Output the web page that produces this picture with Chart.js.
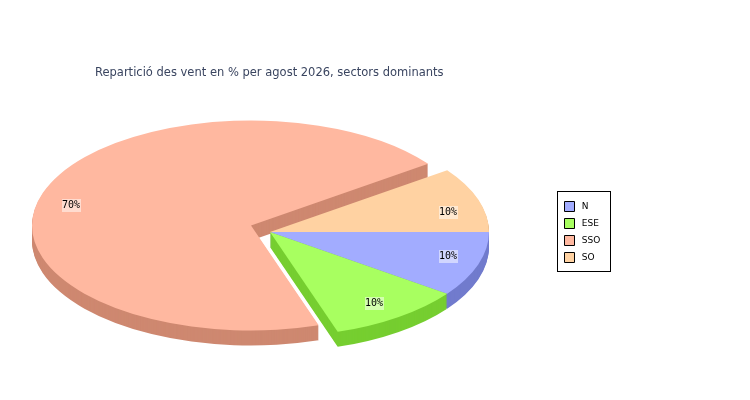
<!DOCTYPE html>
<html>
<head>
<meta charset="utf-8">
<script src="https://cdn.jsdelivr.net/npm/chart.js@4"></script>
<style>
  body { margin: 0; background: #fff; }
  canvas { display: block; }
</style>
</head>
<body>
<canvas id="windPie" width="750" height="400"></canvas>
<script>
const sectors = ['N', 'ESE', 'SSO', 'SO'];
const shares = [10, 10, 70, 10];
const topColors = ['#a2acff', '#a8ff60', '#ffb8a0', '#ffd2a2'];
const sideColors = ['#717bcd', '#76ce30', '#ce8870', '#cfa070'];
const titleText = 'Repartició des vent en % per agost 2026, sectors dominants';

// the tilted pie: centre and radii on the page, wall height, pulled out slice
const PIE = { x: 270, y: 232, rx: 219, ry: 105, depth: 15 };
const PULLED = 2;
const PULL = { x: -19, y: -6.5 };
const DRAW_ORDER = [3, 2, 0, 1];
const LABEL_NUDGE = [[0, 0], [-6, 7], [-2, 4], [0, 4]];
const FRAME = { left: 557.5, top: 191.5, width: 53, height: 80 };
const FONT = '"DejaVu Sans"';

function drawSlice(ctx, el, i, color, dy) {
  const shift = i === PULLED ? PULL : { x: 0, y: 0 };
  const opts = el.options;
  ctx.save();
  ctx.translate(PIE.x + shift.x, PIE.y + shift.y + dy);
  ctx.scale(PIE.rx / el.outerRadius, PIE.ry / el.outerRadius);
  ctx.translate(-el.x, -el.y);
  el.options = Object.assign({}, opts, { backgroundColor: color, borderWidth: 0 });
  el.draw(ctx);
  el.options = opts;
  ctx.restore();
}

const tiltedPie = {
  id: 'tiltedPie',
  afterLayout(chart) {
    const t = chart.titleBlock;
    t.left = 95; t.right = 640; t.top = 66; t.bottom = 81;
    const l = chart.legend;
    l.left = 557.5; l.right = 610; l.top = 194.5; l.bottom = 271;
  },
  beforeDatasetsDraw(chart) {
    const ctx = chart.ctx;
    const arcs = chart.getDatasetMeta(0).data;
    DRAW_ORDER.forEach(i => {
      for (let dy = PIE.depth; dy > 0; dy--) drawSlice(ctx, arcs[i], i, sideColors[i], dy);
    });
    DRAW_ORDER.forEach(i => drawSlice(ctx, arcs[i], i, topColors[i], 0));

    // percent labels on a pale box
    ctx.save();
    ctx.font = '10px "DejaVu Sans Mono"';
    ctx.textAlign = 'center';
    ctx.textBaseline = 'middle';
    arcs.forEach((el, i) => {
      const mid = (el.startAngle + el.endAngle) / 2;
      const shift = i === PULLED ? PULL : { x: 0, y: 0 };
      const x = PIE.x + shift.x + Math.cos(mid) * PIE.rx * 0.855 + LABEL_NUDGE[i][0];
      const y = PIE.y + shift.y + Math.sin(mid) * PIE.ry * 0.75 + LABEL_NUDGE[i][1];
      ctx.fillStyle = 'rgba(255,255,255,0.5)';
      ctx.fillRect(Math.round(x) - 9, Math.round(y) - 6, 19, 13);
      ctx.fillStyle = '#000';
      ctx.fillText(shares[i] + '%', Math.round(x), Math.round(y));
    });
    ctx.restore();
    return false;
  },
  afterDraw(chart) {
    const ctx = chart.ctx;
    ctx.save();
    ctx.strokeStyle = '#000';
    ctx.lineWidth = 1;
    ctx.strokeRect(FRAME.left, FRAME.top, FRAME.width, FRAME.height);
    ctx.restore();
  }
};

new Chart(document.getElementById('windPie'), {
  type: 'pie',
  data: {
    labels: sectors,
    datasets: [{ data: shares, backgroundColor: topColors, borderWidth: 0 }]
  },
  options: {
    responsive: false,
    animation: false,
    devicePixelRatio: 1,
    rotation: 90,
    plugins: {
      tooltip: { enabled: false },
      title: {
        display: true,
        text: titleText,
        align: 'start',
        color: '#3a4560',
        padding: 0,
        font: { family: FONT, size: 11.5, weight: 'normal' }
      },
      legend: {
        position: 'right',
        align: 'start',
        labels: {
          boxWidth: 10,
          boxHeight: 10,
          padding: 7,
          color: '#000',
          font: { family: FONT, size: 9 },
          generateLabels: chart => chart.data.labels.map((label, i) => ({
            text: ' ' + label,
            fillStyle: topColors[i],
            strokeStyle: '#000',
            lineWidth: 1,
            index: i
          }))
        }
      }
    }
  },
  plugins: [tiltedPie]
});
</script>
</body>
</html>
